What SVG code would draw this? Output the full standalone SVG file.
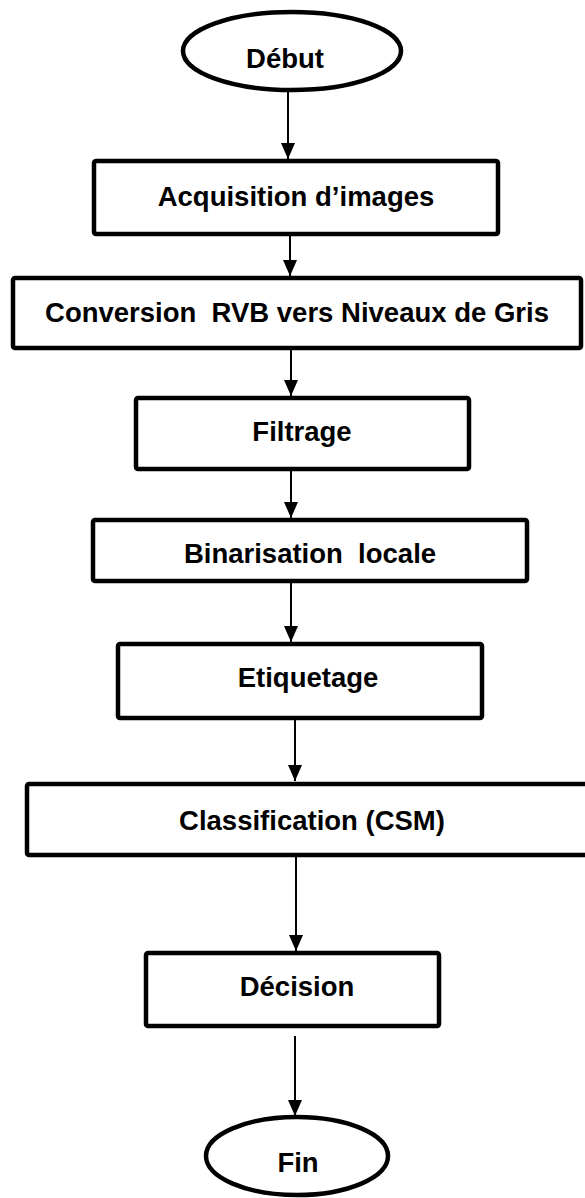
<svg xmlns="http://www.w3.org/2000/svg" width="585" height="1198" viewBox="0 0 585 1198">
<style>
.box{fill:#fff;stroke:#000;stroke-width:4.5}
.term{fill:#fff;stroke:#000;stroke-width:4.5}
.lbl{font-family:"Liberation Sans",Arial,sans-serif;font-weight:bold;font-size:27.5px;fill:#000;text-anchor:middle}
.conn{stroke:#000;stroke-width:2;fill:none;marker-end:url(#ah)}
</style>
<defs>
<marker id="ah" markerUnits="userSpaceOnUse" markerWidth="16" markerHeight="14" refX="16" refY="7" orient="auto" viewBox="0 0 16 14">
<path d="M0,0 L16,7 L0,14 Z" fill="#000"/>
</marker>
</defs>
<g id="connectors">
<line class="conn" x1="288" y1="92" x2="288" y2="159"/>
<line class="conn" x1="290" y1="236" x2="290" y2="276"/>
<line class="conn" x1="291" y1="350" x2="291" y2="396"/>
<line class="conn" x1="291" y1="471" x2="291" y2="518"/>
<line class="conn" x1="291" y1="583" x2="291" y2="642"/>
<line class="conn" x1="295" y1="720" x2="295" y2="781"/>
<line class="conn" x1="296" y1="857" x2="296" y2="951"/>
<line class="conn" x1="295" y1="1036" x2="295" y2="1116"/>
</g>
<g id="debut">
<ellipse class="term" cx="292" cy="51" rx="109" ry="39"/>
<text class="lbl" x="285" y="68">Début</text>
</g>
<g id="acquisition">
<rect class="box" x="94" y="161" width="404" height="73" rx="2"/>
<text class="lbl" x="296" y="206">Acquisition d’images</text>
</g>
<g id="conversion">
<rect class="box" x="13" y="278" width="568" height="70" rx="2"/>
<text class="lbl" x="297" y="322" xml:space="preserve">Conversion  RVB vers Niveaux de Gris</text>
</g>
<g id="filtrage">
<rect class="box" x="136" y="398" width="333" height="71" rx="2"/>
<text class="lbl" x="302" y="441">Filtrage</text>
</g>
<g id="binarisation">
<rect class="box" x="93" y="520" width="434" height="61" rx="2"/>
<text class="lbl" x="310" y="563" xml:space="preserve">Binarisation  locale</text>
</g>
<g id="etiquetage">
<rect class="box" x="118" y="644" width="364" height="74" rx="2"/>
<text class="lbl" x="308" y="687">Etiquetage</text>
</g>
<g id="classification">
<rect class="box" x="27" y="784" width="570" height="71" rx="2"/>
<text class="lbl" x="312" y="830">Classification (CSM)</text>
</g>
<g id="decision">
<rect class="box" x="146" y="953" width="293" height="73" rx="2"/>
<text class="lbl" x="297" y="996">Décision</text>
</g>
<g id="fin">
<ellipse class="term" cx="297" cy="1156" rx="91" ry="39"/>
<text class="lbl" x="298" y="1172">Fin</text>
</g>
</svg>
